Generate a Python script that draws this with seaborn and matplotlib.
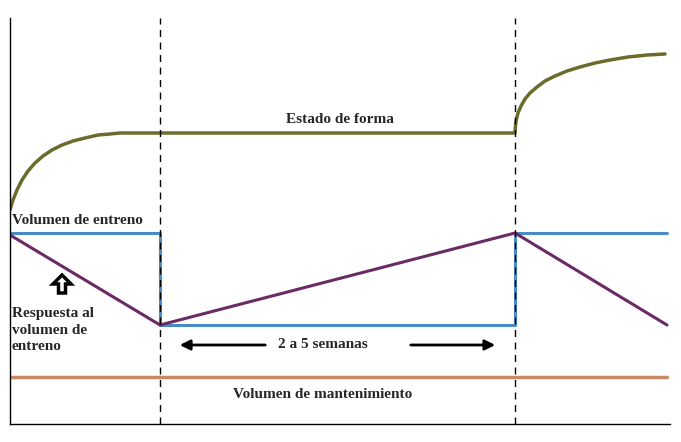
import matplotlib
matplotlib.use("Agg")
import matplotlib.pyplot as plt
import seaborn as sns
import pandas as pd

sns.set_style("white")
plt.rcParams['font.family'] = ['Liberation Serif', 'DejaVu Serif']

# data in pixel-like units (x right, y up from bottom axis)
forma_x = [0, 3, 7, 12, 18, 25, 33, 42, 52, 63, 75, 88, 100, 110, 505, 505.3, 506, 508, 511, 515, 520, 527, 535, 545, 557, 570, 585, 600, 618, 637, 655]
forma_y = [214, 224, 234, 244, 253, 261, 268, 274, 279, 283, 286, 289, 290, 291, 291, 296, 303, 311, 318, 325, 331, 337, 343, 348, 353, 357, 361, 364, 367, 369, 370]
vol_x = [0, 150, 150, 505, 505, 657]
vol_y = [191, 191, 99, 99, 191, 191]
resp_x = [0, 150, 505, 657]
resp_y = [189, 99, 191, 99]
mant_x = [0, 657]
mant_y = [47, 47]
vlines_x = [150, 505]

fig = plt.figure(figsize=(6.81, 4.42), dpi=100)
ax = fig.add_axes([10/681, 18/442, 660/681, 406/442])

sns.lineplot(x=forma_x, y=forma_y, ax=ax, color="#6b6b2e", lw=2.5, sort=False, estimator=None)
sns.lineplot(x=vol_x, y=vol_y, ax=ax, color="#4a8ac6", lw=2.2, sort=False, estimator=None)
sns.lineplot(x=resp_x, y=resp_y, ax=ax, color="#6a2a66", lw=2.2, sort=False, estimator=None)
sns.lineplot(x=mant_x, y=mant_y, ax=ax, color="#c98a68", lw=2.5, sort=False, estimator=None)
for vx in vlines_x:
    ax.axvline(vx, color="black", ls=(0, (5, 4)), lw=1)

ax.set_xlim(0, 660)
ax.set_ylim(0, 406)
ax.set_xticks([]); ax.set_yticks([])
for s in ["top", "right"]:
    ax.spines[s].set_visible(False)
for s in ["left", "bottom"]:
    ax.spines[s].set_color("black"); ax.spines[s].set_linewidth(1)

kw = dict(fontsize=11, fontweight="bold")
ax.text(330, 305, "Estado de forma", ha="center", va="center", **kw)
ax.text(2, 204, "Volumen de entreno", ha="left", va="center", **kw)
ax.text(2, 94, "Respuesta al\nvolumen de\nentreno", ha="left", va="center", linespacing=1.3, **kw)
ax.text(313, 79, "2 a 5 semanas", ha="center", va="center", **kw)
ax.text(313, 29, "Volumen de mantenimiento", ha="center", va="center", **kw)

ax.annotate("", xy=(167, 79), xytext=(258, 79),
            arrowprops=dict(arrowstyle="-|>", color="black", lw=2, mutation_scale=15))
ax.annotate("", xy=(488, 79), xytext=(398, 79),
            arrowprops=dict(arrowstyle="-|>", color="black", lw=2, mutation_scale=15))
ax.arrow(52, 131, 0, 9, width=7, head_width=18, head_length=9,
         length_includes_head=False, fc="white", ec="black", lw=2.5)

fig.savefig("out.png", dpi=100)
